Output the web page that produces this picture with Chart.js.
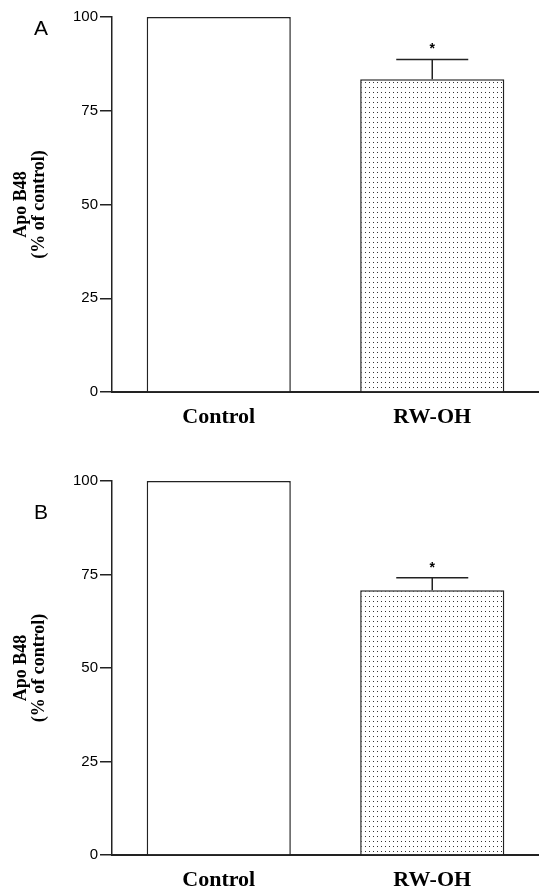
<!DOCTYPE html>
<html>
<head>
<meta charset="utf-8">
<script src="https://cdn.jsdelivr.net/npm/chart.js@4.4.1/dist/chart.umd.min.js"></script>
<style>
  body { margin: 0; background: #fff; }
  canvas { display: block; }
</style>
</head>
<body>
<canvas id="chartA" width="539" height="444"></canvas>
<canvas id="chartB" width="539" height="444"></canvas>
<script>
const categories = ['Control', 'RW-OH'];
const yTicks = [0, 25, 50, 75, 100];
const apoB48_A = [100, 83.4];
const sem_A = [0, 5.3];
const apoB48_B = [100, 70.8];
const sem_B = [0, 3.3];
const stars = ['', '*'];

// dotted fill like the original stipple
function dotPattern() {
  const c = document.createElement('canvas');
  c.width = 4;
  c.height = 5;
  const g = c.getContext('2d');
  g.fillStyle = '#fff';
  g.fillRect(0, 0, 4, 5);
  g.fillStyle = '#333';
  g.fillRect(1, 2, 1, 1);
  return g.createPattern(c, 'repeat');
}

const errorBars = {
  id: 'errorBars',
  afterDatasetsDraw(chart) {
    const ctx = chart.ctx;
    const meta = chart.getDatasetMeta(0);
    const ds = chart.data.datasets[0];
    const y = chart.scales.y;
    ctx.save();
    ctx.strokeStyle = '#222';
    ctx.lineWidth = 1.5;
    meta.data.forEach((bar, i) => {
      const e = ds.err[i];
      if (!e) return;
      const top = y.getPixelForValue(ds.data[i] + e);
      ctx.beginPath();
      ctx.moveTo(bar.x, bar.y);
      ctx.lineTo(bar.x, top);
      ctx.moveTo(bar.x - 36, top);
      ctx.lineTo(bar.x + 36, top);
      ctx.stroke();
      if (ds.stars[i]) {
        ctx.fillStyle = '#000';
        ctx.font = 'bold 14px "Liberation Sans"';
        ctx.textAlign = 'center';
        ctx.textBaseline = 'middle';
        ctx.fillText(ds.stars[i], bar.x, top - 10);
      }
    });
    ctx.restore();
  }
};

const panelLetter = {
  id: 'panelLetter',
  afterDraw(chart, args, opts) {
    const ctx = chart.ctx;
    ctx.save();
    ctx.fillStyle = '#000';
    ctx.font = '21px "Liberation Sans"';
    ctx.textAlign = 'center';
    ctx.textBaseline = 'middle';
    ctx.fillText(opts.text, chart.chartArea.left - 71, chart.chartArea.top + opts.dy);
    ctx.restore();
  }
};

function makeChart(id, values, errs, letter, letterDy, padTop, xHeight) {
  new Chart(document.getElementById(id), {
    type: 'bar',
    data: {
      labels: categories,
      datasets: [{
        data: values,
        err: errs,
        stars: stars,
        backgroundColor: ['#fff', dotPattern()],
        borderColor: '#222',
        borderWidth: 1.5,
        borderSkipped: 'bottom',
        barPercentage: 0.675,
        categoryPercentage: 1.0
      }]
    },
    options: {
      responsive: false,
      animation: false,
      layout: { padding: { top: padTop, right: 0, left: 0, bottom: 0 } },
      plugins: {
        legend: { display: false },
        tooltip: { enabled: false },
        panelLetter: { text: letter, dy: letterDy }
      },
      scales: {
        x: {
          grid: { display: false, drawTicks: false },
          border: { display: true, color: '#222', width: 2 },
          ticks: {
            color: '#000',
            padding: 12,
            font: { family: '"Liberation Serif"', size: 22, weight: 'bold' }
          },
          afterFit(scale) { scale.height = xHeight; }
        },
        y: {
          min: 0,
          max: 100,
          afterBuildTicks(scale) { scale.ticks = yTicks.map(v => ({ value: v })); },
          grid: { drawOnChartArea: false, drawTicks: true, tickLength: 12, color: '#222', lineWidth: 1.5 },
          border: { display: true, color: '#222', width: 1.5 },
          ticks: {
            color: '#000',
            padding: 2,
            font: { family: '"Liberation Sans"', size: 15 }
          },
          title: {
            display: true,
            text: ['Apo B48', '(% of control)'],
            color: '#000',
            padding: { top: 12, bottom: 10 },
            font: { family: '"Liberation Serif"', size: 18, weight: 'bold', lineHeight: 1.0 }
          },
          afterFit(scale) { scale.width = 112; }
        }
      }
    },
    plugins: [errorBars, panelLetter]
  });
}

makeChart('chartA', apoB48_A, sem_A, 'A', 12, 17, 52);
makeChart('chartB', apoB48_B, sem_B, 'B', 32, 37, 33);
</script>
</body>
</html>
